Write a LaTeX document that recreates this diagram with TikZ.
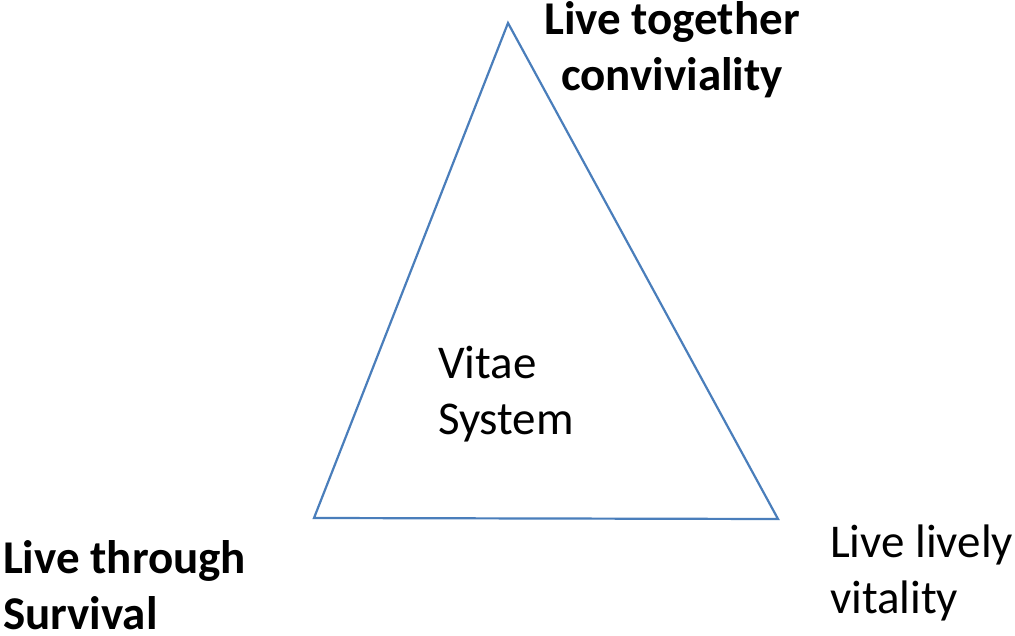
\documentclass[tikz,border=0pt]{standalone}
\usepackage{fontspec}
\setmainfont{Carlito}
\definecolor{edgeblue}{HTML}{4A7EBB}
\begin{document}
\begin{tikzpicture}[x=1pt,y=-1pt,
  label/.style={inner sep=0pt, outer sep=0pt, font=\fontsize{47}{56}\selectfont},
  boldlabel/.style={label, font=\fontsize{47}{56}\selectfont\bfseries},
  side/.style={draw=edgeblue, line width=2.2pt, line join=miter}]
\useasboundingbox (0,0) rectangle (1015,636);
% corners of the triangle
\coordinate (top) at (508,23);
\coordinate (left) at (314,518);
\coordinate (right) at (778,519);
\draw[side] (top) -- (right) -- (left) -- cycle;
% labels (anchored on the baseline of their last line)
\node[label, anchor=base west, align=left] (centre) at (438,434) {Vitae\\System};
\node[boldlabel, anchor=base, align=center] (together) at (672,91) {Live together\\conviviality};
\node[boldlabel, anchor=base west, align=left] (through) at (3,629) {Live through\\Survival};
\node[label, anchor=base west, align=left] (lively) at (830,613) {Live lively\\vitality};
\end{tikzpicture}
\end{document}
